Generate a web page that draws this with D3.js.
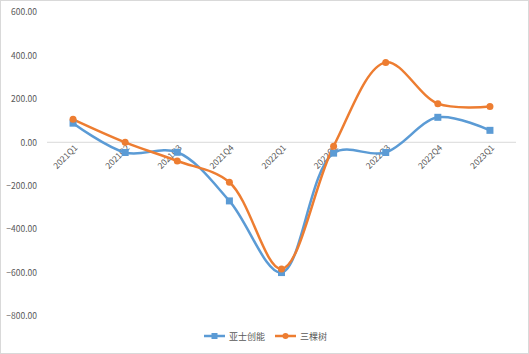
<!DOCTYPE html>
<html>
<head>
<meta charset="utf-8">
<script src="https://cdn.jsdelivr.net/npm/d3@7"></script>
<style>
html,body{margin:0;padding:0;background:#fff;}
svg{display:block;}
</style>
</head>
<body>
<svg id="chart" width="529" height="354"></svg>
<script>
const categories = ["2021Q1","2021Q2","2021Q3","2021Q4","2022Q1","2022Q2","2022Q3","2022Q4","2023Q1"];
const seriesNames = ["亚士创能","三棵树"];
const yaShi = [88, -47, -46, -270, -600, -50, -47, 115, 55];
const sanKeShu = [106, 0, -86, -184, -583, -18, 368, 178, 165];
const yTicks = [600, 400, 200, 0, -200, -400, -600, -800];
const colors = ["#5B9BD5", "#ED7D31"];

const svg = d3.select("#chart");
const W = 529, H = 354;

svg.append("rect").attr("x",0.5).attr("y",0.5).attr("width",W-1).attr("height",H-1)
  .attr("fill","#fff").attr("stroke","#d9d9d9").attr("stroke-width",1);

const x = d3.scaleBand().domain(categories).range([47, 516]);
const y = d3.scaleLinear().domain([-800, 600]).range([316, 12]);

const font = "'Noto Sans CJK SC', 'Noto Sans', sans-serif";

// y tick labels
const yAxis = d3.axisLeft(y).tickValues(yTicks).tickFormat(d => d3.format(".2f")(d)).tickSize(0).tickPadding(0);
const ga = svg.append("g").attr("transform","translate(37,0)").call(yAxis);
ga.select(".domain").remove();
ga.selectAll("text").attr("fill","#595959").style("font-family",font).style("font-size","8.5px");

// zero line
svg.append("line").attr("x1",47).attr("x2",516).attr("y1",y(0)).attr("y2",y(0))
  .attr("stroke","#d9d9d9").attr("stroke-width",1);

// x labels
const xAxis = d3.axisBottom(x).tickSize(0).tickPadding(0);
const gx = svg.append("g").attr("transform",`translate(0,${y(0)})`).call(xAxis);
gx.select(".domain").remove();
gx.selectAll("text")
  .attr("fill","#595959").style("font-family",font).style("font-size","8.5px")
  .attr("text-anchor","end").attr("dy",null).attr("y",0)
  .attr("transform","translate(5,6) rotate(-45)");

const line = d3.line()
  .x((d,i) => x(categories[i]) + x.bandwidth()/2)
  .y(d => y(d))
  .curve(d3.curveCatmullRom.alpha(0.5));

const data = [yaShi, sanKeShu];
data.forEach((vals, si) => {
  svg.append("path").datum(vals).attr("d", line)
    .attr("fill","none").attr("stroke",colors[si]).attr("stroke-width",2.5)
    .attr("stroke-linecap","round");
});
// markers
svg.selectAll(".sq").data(yaShi).join("rect")
  .attr("x",(d,i)=>x(categories[i])+x.bandwidth()/2-3.5)
  .attr("y",d=>y(d)-3.5).attr("width",7).attr("height",7).attr("fill",colors[0]);
svg.selectAll(".ci").data(sanKeShu).join("circle")
  .attr("cx",(d,i)=>x(categories[i])+x.bandwidth()/2)
  .attr("cy",d=>y(d)).attr("r",3.5).attr("fill",colors[1]);

// legend
const legY = 336;
const lg = svg.append("g");
[[204, 0], [275, 1]].forEach(([lx, si]) => {
  lg.append("line").attr("x1",lx).attr("x2",lx+21).attr("y1",legY).attr("y2",legY)
    .attr("stroke",colors[si]).attr("stroke-width",2.5);
  if (si === 0) {
    lg.append("rect").attr("x",lx+10.5-3).attr("y",legY-3).attr("width",6).attr("height",6).attr("fill",colors[0]);
  } else {
    lg.append("circle").attr("cx",lx+10.5).attr("cy",legY).attr("r",3).attr("fill",colors[1]);
  }
  lg.append("text").attr("x",lx+25).attr("y",legY+3.5).text(seriesNames[si])
    .attr("fill","#595959").style("font-family",font).style("font-size","9px");
});
</script>
</body>
</html>
